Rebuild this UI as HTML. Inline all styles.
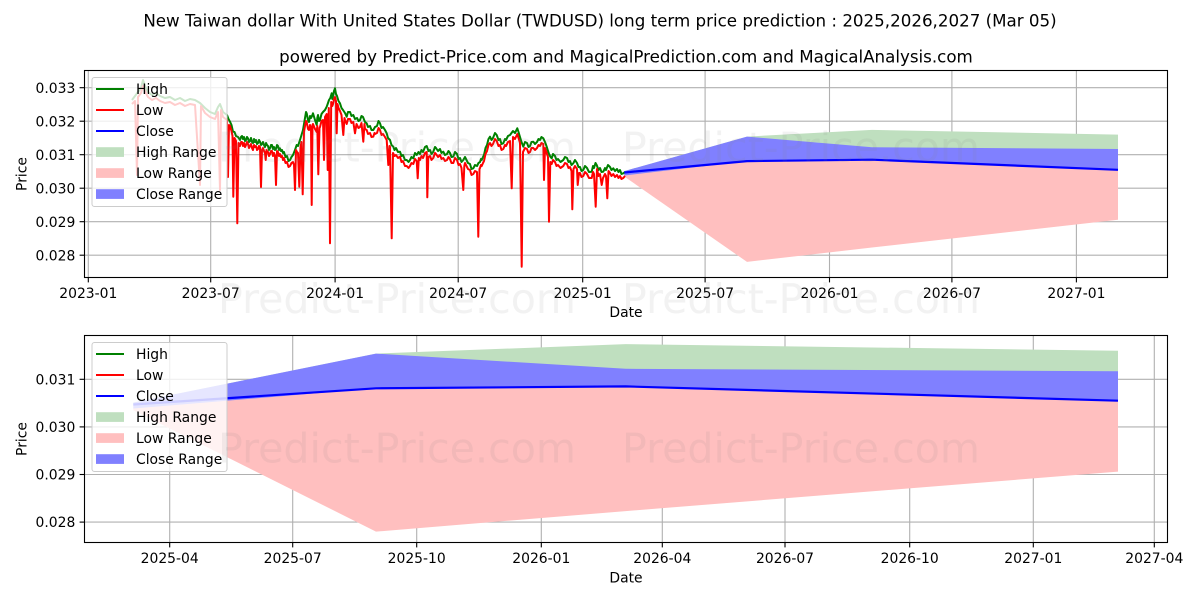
<!DOCTYPE html>
<html>
<head>
<meta charset="utf-8">
<style>
  html,body{margin:0;padding:0;background:#fff;}
  svg{display:block;}
  text{font-family:"DejaVu Sans","Liberation Sans",sans-serif;}
</style>
</head>
<body>
<svg width="1200" height="600" viewBox="0 0 1200 600" xmlns="http://www.w3.org/2000/svg">
  <rect x="0" y="0" width="1200" height="600" fill="#ffffff"/>

  <!-- Titles -->
  <text x="600" y="26.5" font-size="16.7" text-anchor="middle" fill="#000">New Taiwan dollar With United States Dollar (TWDUSD) long term price prediction : 2025,2026,2027 (Mar 05)</text>
  <text x="626" y="62.5" font-size="16.7" text-anchor="middle" fill="#000">powered by Predict-Price.com and MagicalPrediction.com and MagicalAnalysis.com</text>

  <!-- ================= TOP CHART ================= -->
  <g stroke="#b0b0b0" stroke-width="1.1" fill="none">
    <line x1="88.3" y1="70.5" x2="88.3" y2="277.5"/>
    <line x1="210.7" y1="70.5" x2="210.7" y2="277.5"/>
    <line x1="335.1" y1="70.5" x2="335.1" y2="277.5"/>
    <line x1="458.2" y1="70.5" x2="458.2" y2="277.5"/>
    <line x1="582.7" y1="70.5" x2="582.7" y2="277.5"/>
    <line x1="705.1" y1="70.5" x2="705.1" y2="277.5"/>
    <line x1="829.5" y1="70.5" x2="829.5" y2="277.5"/>
    <line x1="951.9" y1="70.5" x2="951.9" y2="277.5"/>
    <line x1="1076.4" y1="70.5" x2="1076.4" y2="277.5"/>
    <line x1="84.5" y1="87.7" x2="1167.5" y2="87.7"/>
    <line x1="84.5" y1="121.2" x2="1167.5" y2="121.2"/>
    <line x1="84.5" y1="154.7" x2="1167.5" y2="154.7"/>
    <line x1="84.5" y1="188.2" x2="1167.5" y2="188.2"/>
    <line x1="84.5" y1="221.7" x2="1167.5" y2="221.7"/>
    <line x1="84.5" y1="255.2" x2="1167.5" y2="255.2"/>
  </g>

  <!-- prediction fills top -->
  <polygon fill="#bfdfbf" points="624.3,171.1 747,136.6 872,129.9 1118,134.6 1118,169.8 872,159.7 747,161.1 624.3,172.5"/>
  <polygon fill="#ffbfbf" points="624.3,173 747,161.1 872,159.7 1118,169.8 1118,219.7 872,247.5 747,261.9 624.3,176.5"/>
  <polygon fill="#8080ff" points="624.3,171.1 747,136.6 872,147.3 1118,149.0 1118,169.8 872,159.7 747,161.1 624.3,175.5"/>

  <!-- historical high -->
  <polyline fill="none" stroke="#008000" stroke-width="2" stroke-linejoin="round" points="132,100 135,96 138,92 141,88 143,80 145,86 148,92 152,95 156,93 160,96 165,98 170,97 175,100 180,98 185,101 190,99 195,100 200,103 205,108 210,112 215,114 218,107 220,104 223,112 227,115 228.5,119 230,121.7 231.5,125 233,131.7 234.5,132 236,136 238,137 240,140 241,137 242,136 243,139 244,137 245,141 246,140 247,137 248,138.3 249,142 250,141 251,138 252,142 253,143 254,139 255,142 256,140 257,144 258,143 259,140 260,141.7 261,145 262,144 263,142 264,145 265,147 266,143 267,145 268,146 269,150 270,148.3 271,145 272,145 273,149 274,147 275,150 276,149 277,145 278,146 279,150 280,148.3 281,151 282,150 283,153 284,152 285.5,157 287,156 288.5,161 290,160 291.5,157 293,155 295,150 296.7,145 298,146 300,140 301.5,135 303,130 304,124 305,118 306,112 306.7,113.3 308,120 309,122 310,116 311,118 312,116 313,113.3 315,120 316.7,125 317.3,118 318,115 319,121 320,120 321.5,114 323,112 325,110 326.7,106.7 328,103 329,100 330.3,98 331.7,93.3 332.3,99 333,96 334,91 335,88.3 336,94 337,96 338.5,101 340,103.3 341.5,108 343,110 345,113 346.7,116.7 348,112 350,112 351.5,116 353.3,115 355,119 357,118 358.5,121 360,120 361.5,116 363,117 365,122 366.7,123.3 368,127 370,126 371.5,130 373.3,130 375,127 377,126 378.5,121 380,123.3 381.5,128 383,127 385,130 386.7,133.3 388,138 390,140 391.5,145 393.3,146.7 394.5,150 396,148 398,152 400,151.7 401.5,156 403,155 405,160 406.7,160 408.5,162 410,160 411.5,157 413.3,158.3 415,153 416.7,155 418.5,152 420,154 421.5,150 423,152 425,147 426.7,146 428.5,151 430,150 431.5,154 433.3,151.7 435,147 436,148 438,151 440,149 441.5,153 443.3,151.7 445,155 447,154 448.5,151 450,153 451.5,157 453.3,156.7 455,152 457,154 458.5,159 460,158 461.5,162 463.3,160 465,157 466,159 468,163 470,164 471.5,169 473.3,168.3 475,165 477,166 478.5,163 480,162 481,159 481.7,160 483,157 484,155 485.5,148 487,145 488.5,139 490,136.7 491.5,140 493,138 495,133 496.7,135 498.5,140 500,139 501.5,144 503.3,143.3 505,139 506,140 508,136 510,135 511.5,133 513,131 515,133 517.3,128.3 518.5,132 520,137 521.5,142 523.3,146.7 525,142 527,143 528.5,147 530,146 531.5,142 533.3,141.7 535,144 537,142 538.5,139 540,140 541.5,137 543.3,138.3 545,142 546.7,146.7 548,151 549,154 550.5,157 551.7,158.3 553,154 555,156 556.5,160 558,159 560.5,162 563.3,160 565,157 567,158 568.5,162 570,161 571.5,165 573.3,163.3 575,160 577,163 578.5,167 580,167 581.5,171 583.3,170 585,166 587,168 589,172 591.7,171.7 593,166 594,168 595.5,163 596.7,165 598.5,170 600,168 601.5,172 603.3,171.7 605,168 606,170 608,165 610,167 611.5,170 613.3,168.3 615,171 617,169 618.5,172 620,170 621.5,174 623.3,173.3 625,172"/>

  <!-- historical low -->
  <polyline fill="none" stroke="#ff0000" stroke-width="2" stroke-linejoin="round" points="132,104 135,101 137,175 138,97 141,93 143,86 145,91 148,97 152,100 156,98 160,101 165,103 170,102 175,105 180,103 185,106 190,104 195,105 200,185 201,106 205,113 210,117 215,119 218,112 220,190 221,110 223,117 227,120 228,177 229,125 230,126 231.5,131 232.5,136 233.3,196.7 234.5,138 236,141 237.3,223.3 238.5,143 240,146 241,142 242,142 243,146 244,143 245,147 246,145 247,142 248,144 249,148 250,146 251,144 252,148 253,150 254,145 255,147 256,146 257,150 258,149 259,146 260,147 261,187 262,150 263,148 264,151 265,153 265.7,160 266.5,150 267,151 268,152 269,156 270,154 271,151 272,151 273,156 274,153 275,156 276,185 277,151 278,152 279,156 280,154 281,157 282,156 283,160 284,158 285.5,163 287,162 288.5,167 290,166 291.5,163 293,162 294,165 295,190 296,150 297,152 298,153 299.3,186.7 300.5,147 301.5,142 302.7,194.3 304,132 305,126 306,121 306.7,122 308,129 309,130 310,125 311,128 311.7,205 312.5,125 313,124 315,129 316.7,132 317.3,126 318.3,174.3 319.5,128 320,127 321.5,121 323,120 324,160 325,117 326.7,114 327.7,170 328.8,108 330,243.3 331.2,102 332.3,106 333,104 334,99 335,97 336,101 336.7,133.3 337.5,104 338.5,108 340,111 341.5,115 343.3,135 344.5,118 345,120 346.7,124 348,119 350,119 351.5,123 353.3,122 355,133.3 356.5,124 357,125 358.5,128 360,127 361.5,123 363.3,141.7 364.5,124 365,129 366.7,130 368,134 370,133 371.5,137 373.3,136.7 374.5,133 375,134 377,133 378.5,128 380,130 381.5,135 383,134 385,137 386.7,140 388.3,165 389.5,146 390,147 391.7,238.3 393,153 394.5,156 396,155 398,158 400,156.7 401.5,162 403,161 405,166 406.7,166 408.5,168 410,166 411.5,163 413.3,164 415,159 416.7,161 417.7,178.3 418.8,158 420,160 421.5,156 423,158 425,153 426.7,152 427.3,197.3 428.3,157 430,156 431.5,160 433.3,158 435,153 436,154 438,157 440,155 441.5,159 443.3,158 445,161 447,160 448.5,157 450,159 451.5,163 453.3,163 455,158 457,160 458.5,165 460,164 461.5,168 463.3,190 464.3,166 465,163 466,165 468,169 470,170 471.5,175 473.3,174 475,171 477,172 478.3,236.7 479.5,169 480,168 481,165 481.7,166 483,163 484,161 485.5,154 487,151 488.5,145 490,143 491.5,146 493,144 495,139 496.7,141 498.5,146 500,145 501.5,150 503.3,149 505,145 506,146 508,142 510,141 511.7,188.3 513,137 515,139 517.3,134 518.5,138 520,143 521.7,266.7 523,152 525,148 527,149 528.5,153 530,152 531.5,148 533.3,148 535,150 537,148 538.5,145 540,146 541.5,143 543.3,144 544,180 545,148 546.7,153 548,157 549,221.7 550.3,162 551.7,164 553,160 555,162 556.5,166 558,165 560.5,168 563.3,166 565,163 567,164 568.5,168 570,167 571.5,171 572.3,209.3 573.5,169 575,166 577,169 577.7,185 579,173 580,173 581.5,177 583.3,176 585,172 587,174 589,178 591.7,178 593,172 594,174 595.7,206.7 597,169 598.5,176 600,174 601.7,185 603,178 605,174 606,176 607.3,198.3 608.5,171 610,173 611.5,176 613.3,174 615,177 617,175 618.5,178 620,176 621.5,179 623.3,178 625,176"/>

  <!-- close prediction top -->
  <polyline fill="none" stroke="#0000ff" stroke-width="2.2" points="624.3,172.5 747,161.1 872,159.7 1118,169.8"/>

  <!-- axes frame top -->
  <rect x="84.5" y="70.5" width="1083" height="207" fill="none" stroke="#000" stroke-width="1.1"/>

  <!-- ticks top -->
  <g stroke="#000" stroke-width="1.1">
    <line x1="88.3" y1="277.5" x2="88.3" y2="282.4"/>
    <line x1="210.7" y1="277.5" x2="210.7" y2="282.4"/>
    <line x1="335.1" y1="277.5" x2="335.1" y2="282.4"/>
    <line x1="458.2" y1="277.5" x2="458.2" y2="282.4"/>
    <line x1="582.7" y1="277.5" x2="582.7" y2="282.4"/>
    <line x1="705.1" y1="277.5" x2="705.1" y2="282.4"/>
    <line x1="829.5" y1="277.5" x2="829.5" y2="282.4"/>
    <line x1="951.9" y1="277.5" x2="951.9" y2="282.4"/>
    <line x1="1076.4" y1="277.5" x2="1076.4" y2="282.4"/>
    <line x1="79.6" y1="87.7" x2="84.5" y2="87.7"/>
    <line x1="79.6" y1="121.2" x2="84.5" y2="121.2"/>
    <line x1="79.6" y1="154.7" x2="84.5" y2="154.7"/>
    <line x1="79.6" y1="188.2" x2="84.5" y2="188.2"/>
    <line x1="79.6" y1="221.7" x2="84.5" y2="221.7"/>
    <line x1="79.6" y1="255.2" x2="84.5" y2="255.2"/>
  </g>
  <g font-size="13.9" fill="#000" text-anchor="middle">
    <text x="88.3" y="298">2023-01</text>
    <text x="210.7" y="298">2023-07</text>
    <text x="335.1" y="298">2024-01</text>
    <text x="458.2" y="298">2024-07</text>
    <text x="582.7" y="298">2025-01</text>
    <text x="705.1" y="298">2025-07</text>
    <text x="829.5" y="298">2026-01</text>
    <text x="951.9" y="298">2026-07</text>
    <text x="1076.4" y="298">2027-01</text>
  </g>
  <g font-size="13.9" fill="#000" text-anchor="end">
    <text x="75.3" y="92.8">0.033</text>
    <text x="75.3" y="126.3">0.032</text>
    <text x="75.3" y="159.8">0.031</text>
    <text x="75.3" y="193.3">0.030</text>
    <text x="75.3" y="226.8">0.029</text>
    <text x="75.3" y="260.3">0.028</text>
  </g>
  <text x="626" y="317" font-size="13.9" text-anchor="middle" fill="#000">Date</text>
  <text transform="translate(26.5,174) rotate(-90)" font-size="13.9" text-anchor="middle" fill="#000">Price</text>

  <!-- legend top -->
  <rect x="92" y="77.5" width="135" height="129" rx="2.5" ry="2.5" fill="#ffffff" fill-opacity="0.8" stroke="#cccccc" stroke-width="1"/>
  <line x1="96" y1="89" x2="124" y2="89" stroke="#008000" stroke-width="2"/>
  <line x1="96" y1="110" x2="124" y2="110" stroke="#ff0000" stroke-width="2"/>
  <line x1="96" y1="131" x2="124" y2="131" stroke="#0000ff" stroke-width="2"/>
  <rect x="96" y="147.2" width="28" height="9.7" fill="#bfdfbf"/>
  <rect x="96" y="168.2" width="28" height="9.7" fill="#ffbfbf"/>
  <rect x="96" y="189.2" width="28" height="9.7" fill="#8080ff"/>
  <g font-size="13.9" fill="#000">
    <text x="136" y="94">High</text>
    <text x="136" y="115">Low</text>
    <text x="136" y="136">Close</text>
    <text x="136" y="157">High Range</text>
    <text x="136" y="178">Low Range</text>
    <text x="136" y="199">Close Range</text>
  </g>

  <!-- ================= BOTTOM CHART ================= -->
  <g stroke="#b0b0b0" stroke-width="1.1" fill="none">
    <line x1="169.7" y1="335.5" x2="169.7" y2="542.5"/>
    <line x1="292.7" y1="335.5" x2="292.7" y2="542.5"/>
    <line x1="416.7" y1="335.5" x2="416.7" y2="542.5"/>
    <line x1="541.3" y1="335.5" x2="541.3" y2="542.5"/>
    <line x1="662.3" y1="335.5" x2="662.3" y2="542.5"/>
    <line x1="785" y1="335.5" x2="785" y2="542.5"/>
    <line x1="909.7" y1="335.5" x2="909.7" y2="542.5"/>
    <line x1="1033.3" y1="335.5" x2="1033.3" y2="542.5"/>
    <line x1="1154.3" y1="335.5" x2="1154.3" y2="542.5"/>
    <line x1="84.5" y1="379.3" x2="1167.5" y2="379.3"/>
    <line x1="84.5" y1="426.9" x2="1167.5" y2="426.9"/>
    <line x1="84.5" y1="474.5" x2="1167.5" y2="474.5"/>
    <line x1="84.5" y1="522.1" x2="1167.5" y2="522.1"/>
  </g>

  <polygon fill="#bfdfbf" points="133.3,402.6 376,353.6 625.6,344.1 1118,350.8 1118,400.7 625.6,386.4 376,388.3 133.3,404.5"/>
  <polygon fill="#ffbfbf" points="133.3,405 376,388.3 625.6,386.4 1118,400.7 1118,471.6 625.6,511.1 376,531.6 133.3,410.2"/>
  <polygon fill="#8080ff" points="133.3,402.6 376,353.6 625.6,368.8 1118,371.2 1118,400.7 625.6,386.4 376,388.3 133.3,408.5"/>
  <polyline fill="none" stroke="#0000ff" stroke-width="2.2" points="133.3,404.5 376,388.3 625.6,386.4 1118,400.7"/>

  <rect x="84.5" y="335.5" width="1083" height="207" fill="none" stroke="#000" stroke-width="1.1"/>

  <g stroke="#000" stroke-width="1.1">
    <line x1="169.7" y1="542.5" x2="169.7" y2="547.4"/>
    <line x1="292.7" y1="542.5" x2="292.7" y2="547.4"/>
    <line x1="416.7" y1="542.5" x2="416.7" y2="547.4"/>
    <line x1="541.3" y1="542.5" x2="541.3" y2="547.4"/>
    <line x1="662.3" y1="542.5" x2="662.3" y2="547.4"/>
    <line x1="785" y1="542.5" x2="785" y2="547.4"/>
    <line x1="909.7" y1="542.5" x2="909.7" y2="547.4"/>
    <line x1="1033.3" y1="542.5" x2="1033.3" y2="547.4"/>
    <line x1="1154.3" y1="542.5" x2="1154.3" y2="547.4"/>
    <line x1="79.6" y1="379.3" x2="84.5" y2="379.3"/>
    <line x1="79.6" y1="426.9" x2="84.5" y2="426.9"/>
    <line x1="79.6" y1="474.5" x2="84.5" y2="474.5"/>
    <line x1="79.6" y1="522.1" x2="84.5" y2="522.1"/>
  </g>
  <g font-size="13.9" fill="#000" text-anchor="middle">
    <text x="169.7" y="563">2025-04</text>
    <text x="292.7" y="563">2025-07</text>
    <text x="416.7" y="563">2025-10</text>
    <text x="541.3" y="563">2026-01</text>
    <text x="662.3" y="563">2026-04</text>
    <text x="785" y="563">2026-07</text>
    <text x="909.7" y="563">2026-10</text>
    <text x="1033.3" y="563">2027-01</text>
    <text x="1154.3" y="563">2027-04</text>
  </g>
  <g font-size="13.9" fill="#000" text-anchor="end">
    <text x="75.3" y="384.4">0.031</text>
    <text x="75.3" y="432">0.030</text>
    <text x="75.3" y="479.6">0.029</text>
    <text x="75.3" y="527.2">0.028</text>
  </g>
  <text x="626" y="582.3" font-size="13.9" text-anchor="middle" fill="#000">Date</text>
  <text transform="translate(26.5,439) rotate(-90)" font-size="13.9" text-anchor="middle" fill="#000">Price</text>

  <!-- legend bottom -->
  <rect x="92" y="342.5" width="135" height="129" rx="2.5" ry="2.5" fill="#ffffff" fill-opacity="0.8" stroke="#cccccc" stroke-width="1"/>
  <line x1="96" y1="354" x2="124" y2="354" stroke="#008000" stroke-width="2"/>
  <line x1="96" y1="375" x2="124" y2="375" stroke="#ff0000" stroke-width="2"/>
  <line x1="96" y1="396" x2="124" y2="396" stroke="#0000ff" stroke-width="2"/>
  <rect x="96" y="412.2" width="28" height="9.7" fill="#bfdfbf"/>
  <rect x="96" y="433.2" width="28" height="9.7" fill="#ffbfbf"/>
  <rect x="96" y="454.2" width="28" height="9.7" fill="#8080ff"/>
  <g font-size="13.9" fill="#000">
    <text x="136" y="359">High</text>
    <text x="136" y="380">Low</text>
    <text x="136" y="401">Close</text>
    <text x="136" y="422">High Range</text>
    <text x="136" y="443">Low Range</text>
    <text x="136" y="464">Close Range</text>
  </g>

  <!-- watermarks -->
  <g font-size="41" fill="#808080" fill-opacity="0.1">
    <text x="218" y="161.5" textLength="358" lengthAdjust="spacingAndGlyphs">Predict-Price.com</text>
    <text x="622" y="161.5" textLength="358" lengthAdjust="spacingAndGlyphs">Predict-Price.com</text>
    <text x="218" y="313" textLength="358" lengthAdjust="spacingAndGlyphs">Predict-Price.com</text>
    <text x="622" y="313" textLength="358" lengthAdjust="spacingAndGlyphs">Predict-Price.com</text>
    <text x="218" y="462.7" textLength="358" lengthAdjust="spacingAndGlyphs">Predict-Price.com</text>
    <text x="622" y="462.7" textLength="358" lengthAdjust="spacingAndGlyphs">Predict-Price.com</text>
  </g>
</svg>
</body>
</html>
